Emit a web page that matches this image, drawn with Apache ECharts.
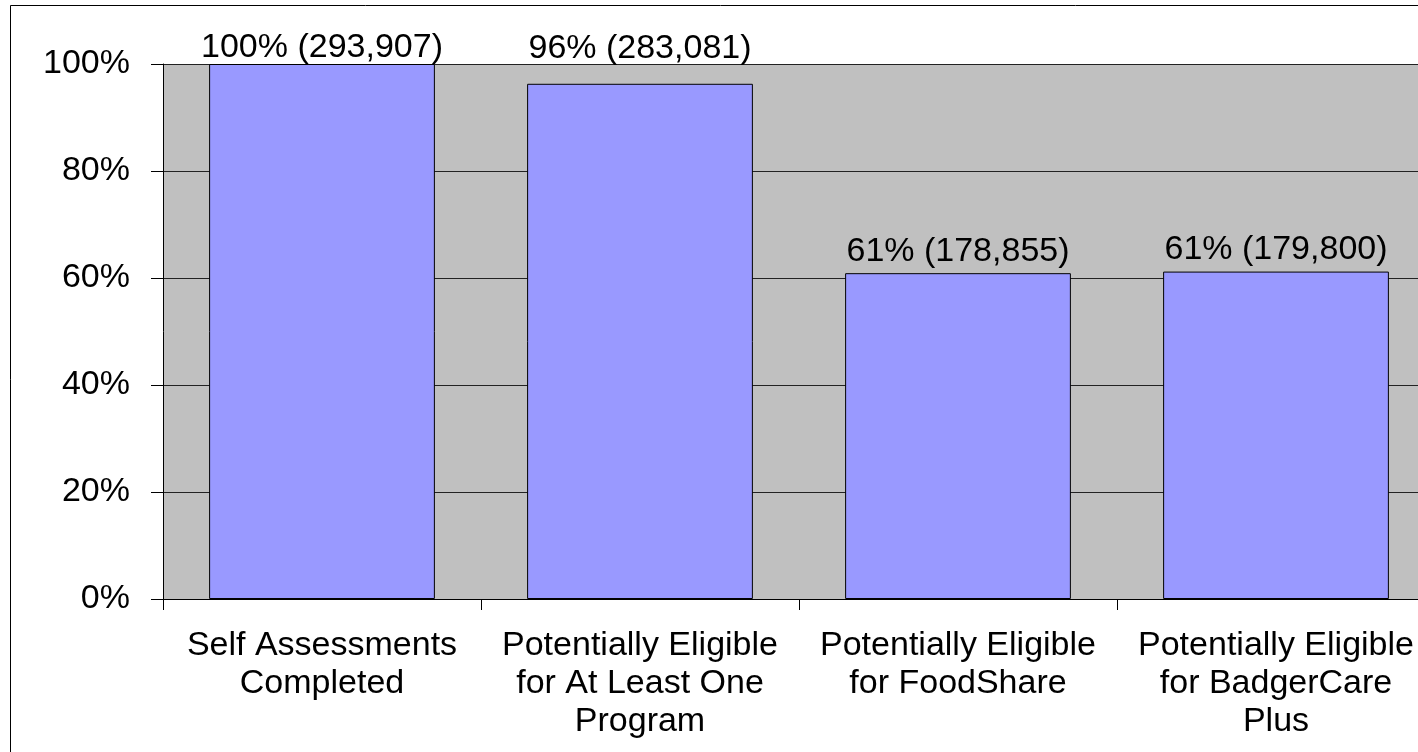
<!DOCTYPE html>
<html>
<head>
<meta charset="utf-8">
<script src="https://cdn.jsdelivr.net/npm/echarts@6/dist/echarts.min.js"></script>
<style>
  html, body { margin: 0; padding: 0; background: #fff; overflow: hidden; }
  /* the original chart is cut off at the right edge, so the canvas is a bit wider than the window */
  #chart { width: 1440px; height: 752px; }
</style>
</head>
<body>
<div id="chart"></div>
<script>
// categories and values
const categories = [
    'Self Assessments\nCompleted',
    'Potentially Eligible\nfor At Least One\nProgram',
    'Potentially Eligible\nfor FoodShare',
    'Potentially Eligible\nfor BadgerCare\nPlus'
];
const percentValues = [100, 96.3, 60.9, 61.2];
const countValues = [293907, 283081, 178855, 179800];
const yTicks = [0, 20, 40, 60, 80, 100];

const font = 'Liberation Sans, Arial, sans-serif';
const fs = 34;

// the data labels in the original are not all at the same distance from their bar
const labelOffsets = [[0, 6], [0, -13], [0, 0], [0, 0]];

const chart = echarts.init(document.getElementById('chart'));

const option = {
    backgroundColor: '#fff',
    animation: false,
    textStyle: { fontFamily: font, color: '#000' },
    graphic: [{
        type: 'rect',
        shape: { x: 10.5, y: 5.5, width: 1420, height: 760 },
        style: { fill: 'none', stroke: '#000', lineWidth: 1 },
        silent: true
    }],
    grid: {
        left: 163,
        top: 64,
        width: 1272,
        height: 535,
        show: true,
        backgroundColor: '#C0C0C0',
        borderWidth: 0
    },
    xAxis: {
        type: 'category',
        data: categories,
        axisLine: { lineStyle: { color: '#000', width: 1 } },
        axisTick: { show: true, length: 11, lineStyle: { color: '#000' } },
        axisLabel: {
            interval: 0,
            fontSize: fs,
            lineHeight: 38,
            color: '#000',
            fontFamily: font,
            margin: 28
        }
    },
    yAxis: {
        type: 'value',
        min: yTicks[0],
        max: yTicks[yTicks.length - 1],
        interval: 20,
        axisLine: { show: true, lineStyle: { color: '#000', width: 1 } },
        axisTick: { show: true, length: 12, lineStyle: { color: '#000' } },
        splitLine: { show: true, lineStyle: { color: '#222', width: 1 } },
        axisLabel: {
            formatter: '{value}%',
            fontSize: fs,
            color: '#000',
            fontFamily: font,
            margin: 33,
            padding: [3, 0, 0, 0]
        }
    },
    series: [{
        type: 'bar',
        data: percentValues.map(function (v, i) {
            return { value: v, label: { offset: labelOffsets[i] } };
        }),
        barCategoryGap: '29%',
        itemStyle: {
            color: '#9999FF',
            borderColor: '#000',
            borderWidth: 1
        },
        label: {
            show: true,
            position: 'top',
            distance: 5,
            fontSize: fs,
            color: '#000',
            fontFamily: font,
            formatter: function (p) {
                return Math.round(p.value) + '% (' +
                    countValues[p.dataIndex].toLocaleString('en-US') + ')';
            }
        }
    }]
};

chart.setOption(option);
</script>
</body>
</html>
